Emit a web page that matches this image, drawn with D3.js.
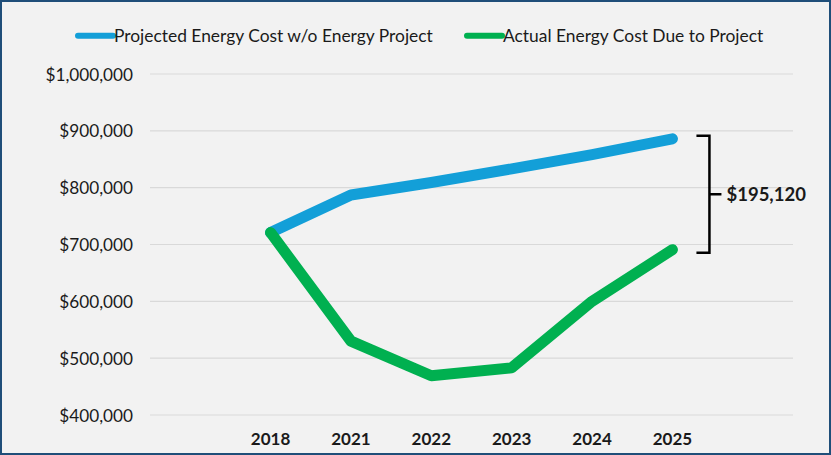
<!DOCTYPE html>
<html>
<head>
<meta charset="utf-8">
<script src="https://cdn.jsdelivr.net/npm/d3@7"></script>
<style>
  html, body { margin: 0; padding: 0; background: #F2F2F2; }
  svg { display: block; }
  text { font-family: Lato, "Noto Sans", sans-serif; fill: #1a1a1a; }
</style>
</head>
<body>
<svg id="chart" width="831" height="455"></svg>
<script>
// Energy cost by year
const years = ["2018", "2021", "2022", "2023", "2024", "2025"];
const projectedCost = [721000, 787000, 809000, 833000, 858000, 886000];
const actualCost = [721000, 530000, 469000, 483000, 600000, 690880];
const seriesNames = ["Projected Energy Cost w/o Energy Project", "Actual Energy Cost Due to Project"];
const seriesColors = ["#139FD8", "#00B050"];
const yTicks = [400000, 500000, 600000, 700000, 800000, 900000, 1000000];

const W = 831, H = 455;
const svg = d3.select("#chart");

// background
svg.append("rect").attr("x", 0).attr("y", 0).attr("width", W).attr("height", H).attr("fill", "#F2F2F2");

const plot = { left: 150, right: 793, top: 74, bottom: 415 };

const x = d3.scalePoint().domain(years).range([plot.left, plot.right]).padding(1.5);
const y = d3.scaleLinear().domain([400000, 1000000]).range([plot.bottom, plot.top]);
const money = d3.format("$,.0f");

// gridlines
svg.append("g").selectAll("line").data(yTicks).join("line")
  .attr("x1", plot.left).attr("x2", plot.right)
  .attr("y1", d => y(d)).attr("y2", d => y(d))
  .attr("stroke", "#D9D9D9").attr("stroke-width", 1.2);

// y tick labels
svg.append("g").selectAll("text").data(yTicks).join("text")
  .attr("x", 133).attr("y", d => y(d))
  .attr("text-anchor", "end").attr("dominant-baseline", "central")
  .style("font-size", "17.2px")
  .text(d => money(d));

// x category labels
svg.append("g").selectAll("text").data(years).join("text")
  .attr("x", d => x(d)).attr("y", 438)
  .attr("text-anchor", "middle").attr("dominant-baseline", "central")
  .style("font-size", "17px").style("font-weight", "bold")
  .text(d => d);

// series lines
const line = d3.line().x((d, i) => x(years[i])).y(d => y(d));
[projectedCost, actualCost].forEach((vals, k) => {
  svg.append("path").datum(vals)
    .attr("d", line)
    .attr("fill", "none")
    .attr("stroke", seriesColors[k])
    .attr("stroke-width", 11)
    .attr("stroke-linejoin", "round")
    .attr("stroke-linecap", "round");
});

// bracket showing the gap in the final year
const last = years.length - 1;
const gap = projectedCost[last] - actualCost[last];
const bTop = y(projectedCost[last]) - 3, bBot = y(actualCost[last]) + 3;
const bMid = (bTop + bBot) / 2;
const bx = x(years[last]);
svg.append("path")
  .attr("d", `M${bx + 24},${bTop}H${bx + 37}V${bBot}H${bx + 24}M${bx + 37},${bMid}H${bx + 49}`)
  .attr("fill", "none").attr("stroke", "#000").attr("stroke-width", 2.5);
svg.append("text")
  .attr("x", bx + 54).attr("y", bMid)
  .attr("dominant-baseline", "central")
  .style("font-size", "18.5px").style("font-weight", "bold")
  .text(money(gap));

// legend
const legendX = [78, 467];
const lg = svg.append("g").selectAll("g").data(seriesNames).join("g")
  .attr("transform", (d, i) => `translate(${legendX[i]},35.7)`);
lg.append("line").attr("x1", 0).attr("x2", 35).attr("y1", 0).attr("y2", 0)
  .attr("stroke", (d, i) => seriesColors[i]).attr("stroke-width", 6).attr("stroke-linecap", "round");
lg.append("text").attr("x", 36).attr("y", 0).attr("dominant-baseline", "central")
  .style("font-size", "17.4px").text(d => d);

// outer frame
svg.append("rect").attr("x", 1).attr("y", 1).attr("width", W - 2).attr("height", H - 2)
  .attr("fill", "none").attr("stroke", "#1F4E79").attr("stroke-width", 2);
</script>
</body>
</html>
